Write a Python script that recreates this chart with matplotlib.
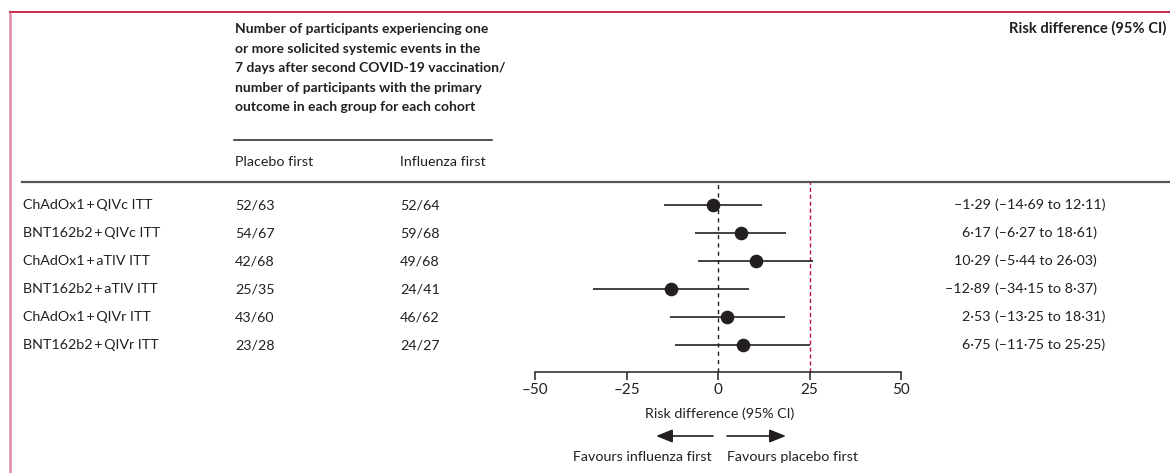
import numpy as np
import matplotlib.pyplot as plt

plt.rcParams['font.family'] = ['Lato', 'DejaVu Sans']

# data
cohorts = ['ChAdOx1\u2009+\u2009QIVc ITT', 'BNT162b2\u2009+\u2009QIVc ITT',
           'ChAdOx1\u2009+\u2009aTIV ITT', 'BNT162b2\u2009+\u2009aTIV ITT',
           'ChAdOx1\u2009+\u2009QIVr ITT', 'BNT162b2\u2009+\u2009QIVr ITT']
placebo_first = ['52/63', '54/67', '42/68', '25/35', '43/60', '23/28']
influenza_first = ['52/64', '59/68', '49/68', '24/41', '46/62', '24/27']
risk_diff = [-1.29, 6.17, 10.29, -12.89, 2.53, 6.75]
ci_low = [-14.69, -6.27, -5.44, -34.15, -13.25, -11.75]
ci_high = [12.11, 18.61, 26.03, 8.37, 18.31, 25.25]
margin = 25
xticks = [-50, -25, 0, 25, 50]

W, H = 1170, 473
txt = '#231f20'
crimson = '#c4123f'
fs = 10.3


def fmt(v):
    return f'{v:.2f}'.replace('.', '\u00b7').replace('-', '\u2013')


fig = plt.figure(figsize=(W / 100, H / 100), dpi=100)
bg = fig.add_axes([0, 0, 1, 1])
bg.set_xlim(0, W)
bg.set_ylim(H, 0)
bg.axis('off')

# frame
bg.plot([9, W], [12, 12], color=crimson, lw=1.3, solid_capstyle='butt')
bg.plot([10, 10], [12, H], color='#e08aa8', lw=1.8, solid_capstyle='butt')

# header
head = ('Number of participants experiencing one\n'
        'or more solicited systemic events in the\n'
        '7 days after second COVID-19 vaccination/\n'
        'number of participants with the primary\n'
        'outcome in each group for each cohort')
bg.text(235, 23, head, fontsize=10, fontweight='bold', color=txt,
        va='top', ha='left', linespacing=1.76)
bg.text(1166, 28, 'Risk difference (95% CI)', fontsize=10.6, fontweight='bold',
        color=txt, va='center', ha='right')
bg.plot([234, 492], [140, 140], color=txt, lw=1.1)
bg.text(235, 162, 'Placebo first', fontsize=fs, color=txt, va='center')
bg.text(400, 162, 'Influenza first', fontsize=fs, color=txt, va='center')
bg.plot([22, W], [182, 182], color='#555555', lw=1.6)

# rows
row_y = 205 + 28 * np.arange(len(cohorts))
for i, y in enumerate(row_y):
    bg.text(23, y, cohorts[i], fontsize=fs, color=txt, va='center')
    bg.text(235, y, placebo_first[i], fontsize=fs, color=txt, va='center')
    bg.text(400, y, influenza_first[i], fontsize=fs, color=txt, va='center')
    bg.text(994, y, fmt(risk_diff[i]) + ' ', fontsize=fs, color=txt,
            va='center', ha='right')
    bg.text(995, y, f'({fmt(ci_low[i])} to {fmt(ci_high[i])})', fontsize=fs,
            color=txt, va='center', ha='left')

# forest plot axes: -50 -> 535 px, 50 -> 901 px, rows 205..345, 182..372 px
top, bot = 182, 372
ax = fig.add_axes([535 / W, 1 - bot / H, (901 - 535) / W, (bot - top) / H])
ax.set_xlim(-50, 50)
ax.set_ylim((bot - 205) / 28, (top - 205) / 28)
ax.patch.set_alpha(0)
y_idx = np.arange(len(cohorts))
ax.axvline(0, color=txt, lw=1.0, ls=(0, (3, 3)))
ax.axvline(margin, color=crimson, lw=1.0, ls=(0, (3, 2)))
ax.hlines(y_idx, ci_low, ci_high, color=txt, lw=1.2)
ax.plot(risk_diff, y_idx, 'o', color=txt, ms=8.8)
for s in ['top', 'right', 'left']:
    ax.spines[s].set_visible(False)
ax.spines['bottom'].set_color(txt)
ax.spines['bottom'].set_linewidth(1.1)
ax.set_yticks([])
ax.set_xticks(xticks)
ax.set_xticklabels([str(t).replace('-', '\u2013') for t in xticks], fontsize=11,
                   color=txt)
ax.tick_params(axis='x', direction='out', length=6, width=1.1, color=txt, pad=2)

bg.text(720, 414, 'Risk difference (95% CI)', fontsize=fs, color=txt,
        ha='center', va='center')
arrow = dict(arrowstyle='-|>,head_length=1.0,head_width=0.4', lw=1.2,
             color=txt, shrinkA=0, shrinkB=0)
bg.annotate('', xy=(656, 436), xytext=(713, 436), arrowprops=arrow)
bg.annotate('', xy=(786, 436), xytext=(727, 436), arrowprops=arrow)
bg.text(712, 457, 'Favours influenza first', fontsize=fs, color=txt,
        ha='right', va='center')
bg.text(727, 457, 'Favours placebo first', fontsize=fs, color=txt,
        ha='left', va='center')

fig.savefig('out.png', dpi=100)
